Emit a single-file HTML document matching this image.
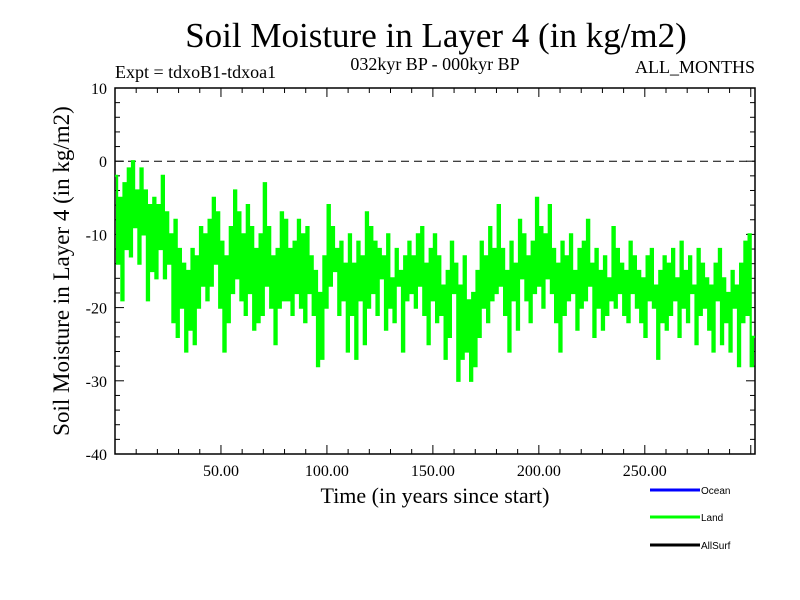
<!DOCTYPE html>
<html><head><meta charset="utf-8"><style>
body{margin:0;background:#fff}
svg{display:block;font-family:"Liberation Serif",serif}
</style></head><body>
<svg id="chart" width="800" height="600" viewBox="0 0 800 600">
<rect width="800" height="600" fill="#fff"/>
<text x="436" y="47" font-size="35" text-anchor="middle">Soil Moisture in Layer 4 (in kg/m2)</text>
<text x="115" y="78" font-size="18">Expt = tdxoB1-tdxoa1</text>
<text x="435" y="70" font-size="18" text-anchor="middle">032kyr BP - 000kyr BP</text>
<text x="755" y="73" font-size="18" text-anchor="end">ALL_MONTHS</text>
<text transform="translate(69,271) rotate(-90)" font-size="23" text-anchor="middle">Soil Moisture in Layer 4 (in kg/m2)</text>
<text x="435" y="503" font-size="22" text-anchor="middle">Time (in years since start)</text>
<g id="axes"></g>
<g id="series"></g>
<g font-family="Liberation Sans,sans-serif" font-size="10">
<line x1="650" y1="490" x2="700" y2="490" stroke="#0000ff" stroke-width="3"/>
<text x="701" y="494">Ocean</text>
<line x1="650" y1="517" x2="700" y2="517" stroke="#00ff00" stroke-width="3"/>
<text x="701" y="521">Land</text>
<line x1="650" y1="545" x2="700" y2="545" stroke="#000" stroke-width="3"/>
<text x="701" y="549">AllSurf</text>
</g>
</svg>
<script>
const yTicks=[10,0,-10,-20,-30,-40];
const xTicks=[50,100,150,200,250];
const xTickLabels=["50.00","100.00","150.00","200.00","250.00"];
const landValues=[
-2,-14,-5,-19,-3,-12,-1,-13,0,-9,-4,-14,-1,-10,-4,-19,-6,-15,-5,-16,
-6,-12,-2,-16,-7,-14,-10,-22,-8,-24,-12,-20,-14,-26,-15,-23,-12,-25,-13,-20,
-9,-17,-10,-19,-8,-17,-5,-14,-7,-20,-11,-26,-13,-22,-9,-18,-4,-16,-7,-19,
-10,-21,-6,-18,-9,-23,-12,-22,-10,-21,-3,-17,-9,-20,-13,-25,-12,-20,-7,-19,
-8,-19,-12,-21,-11,-18,-8,-20,-10,-22,-9,-18,-13,-21,-15,-28,-18,-27,-13,-20,
-6,-17,-9,-15,-12,-21,-11,-19,-14,-26,-10,-21,-14,-27,-11,-19,-13,-25,-7,-20,
-9,-18,-11,-21,-12,-16,-13,-23,-10,-20,-16,-22,-12,-17,-15,-26,-13,-19,-11,-18,
-13,-20,-10,-17,-9,-21,-14,-25,-12,-19,-10,-22,-13,-21,-17,-27,-15,-24,-11,-18,
-14,-30,-17,-27,-13,-26,-19,-30,-18,-28,-15,-24,-11,-20,-13,-22,-9,-19,-12,-18,
-6,-17,-12,-21,-15,-26,-11,-19,-14,-23,-8,-16,-10,-19,-13,-22,-11,-18,-5,-17,
-9,-20,-10,-16,-6,-18,-12,-22,-14,-26,-11,-21,-13,-19,-10,-18,-15,-23,-12,-20,
-11,-19,-8,-17,-14,-24,-12,-20,-15,-23,-13,-21,-16,-19,-9,-20,-12,-18,-14,-21,
-15,-22,-11,-18,-13,-20,-15,-22,-16,-24,-13,-19,-12,-20,-17,-27,-15,-22,-13,-23,
-14,-21,-12,-19,-16,-24,-11,-20,-15,-22,-13,-18,-17,-25,-12,-21,-14,-20,-16,-23,
-17,-26,-14,-19,-12,-25,-16,-22,-18,-26,-15,-20,-17,-28,-14,-22,-11,-21,-10,-28,-24
];
const svgNS="http://www.w3.org/2000/svg";
const X0=115,X1=755,Y0=88,Y1=454,XMAX=302;
function xs(v){return X0+(v/XMAX)*(X1-X0);}
function ys(v){return Y0+(10-v)/50*(Y1-Y0);}
const axes=document.getElementById('axes');
function mk(tag,attrs,parent){const e=document.createElementNS(svgNS,tag);for(const k in attrs)e.setAttribute(k,attrs[k]);parent.appendChild(e);return e;}
const frame=mk('rect',{x:X0,y:Y0,width:X1-X0,height:Y1-Y0,fill:'none',stroke:'#000','stroke-width':1.5},axes);


for(let v=10;v>=-40;v-=2){const major=v%10===0;const L=major?9:5;
 const t1=mk('line',{x1:X0,y1:ys(v),x2:X0+L,y2:ys(v),stroke:'#000'},axes);
 
 
 const t2=mk('line',{x1:X1,y1:ys(v),x2:X1-L,y2:ys(v),stroke:'#000'},axes);
 
 }
yTicks.forEach(v=>{const t=mk('text',{x:X0-8,y:ys(v)+6,'font-size':16,'text-anchor':'end'},axes);t.textContent=v;
 
 });
for(let v=10;v<=300;v+=10){const major=v%50===0;const L=major?9:5;
 const t1=mk('line',{x1:xs(v),y1:Y1,x2:xs(v),y2:Y1-L,stroke:'#000'},axes);
 
 
 const t2=mk('line',{x1:xs(v),y1:Y0,x2:xs(v),y2:Y0+L,stroke:'#000'},axes);
 
 }
xTicks.forEach((v,i)=>{const t=mk('text',{x:xs(v),y:476,'font-size':16,'text-anchor':'middle'},axes);t.textContent=xTickLabels[i];
 
 });
const zl=mk('line',{x1:X0,y1:ys(0),x2:X1,y2:ys(0),stroke:'#000','stroke-dasharray':'8,5'},axes);


const n=landValues.length;
const step=XMAX/n;
let pts=[];
landValues.forEach((v,i)=>{pts.push(xs(i*step).toFixed(1)+','+ys(v).toFixed(1));pts.push(xs((i+1)*step).toFixed(1)+','+ys(v).toFixed(1));});
const pl=mk('polyline',{points:pts.join(' '),fill:'none',stroke:'#00ff00','stroke-width':2.2},document.getElementById('series'));


</script>
</body></html>
